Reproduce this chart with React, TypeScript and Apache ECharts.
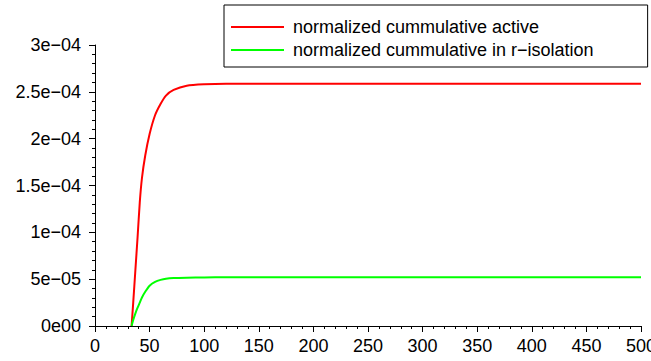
import React, { useEffect, useRef } from "react";
import * as echarts from "echarts";

const times = [33.5, 35, 37, 39, 41, 43, 46, 50, 55, 60, 65, 72, 84, 100, 120, 160, 250, 500];
const activeVals = [0, 0.25e-4, 0.6e-4, 0.95e-4, 1.32e-4, 1.58e-4, 1.82e-4, 2.05e-4, 2.25e-4, 2.37e-4, 2.46e-4, 2.52e-4, 2.565e-4, 2.58e-4, 2.585e-4, 2.585e-4, 2.585e-4, 2.585e-4];
const isolationVals = [0, 0.65e-5, 1.35e-5, 1.95e-5, 2.5e-5, 3.05e-5, 3.65e-5, 4.3e-5, 4.7e-5, 4.92e-5, 5.05e-5, 5.12e-5, 5.16e-5, 5.19e-5, 5.2e-5, 5.2e-5, 5.2e-5, 5.2e-5];
const yTickLabels = ["0e00", "5e\u221205", "1e\u221204", "1.5e\u221204", "2e\u221204", "2.5e\u221204", "3e\u221204"];
const seriesNames = ["normalized cummulative active", "normalized cummulative in r\u2212isolation"];

const FONT = "'Liberation Sans', Arial, Helvetica, sans-serif";

export default function App() {
  const ref = useRef<HTMLDivElement>(null);
  useEffect(() => {
    if (!ref.current) return;
    const chart = echarts.init(ref.current, undefined, { renderer: "svg" });
    const toPairs = (vals: number[]) => times.map((t, i) => [t, vals[i]]);
    chart.setOption({
      animation: false,
      backgroundColor: "#ffffff",
      textStyle: { fontFamily: FONT },
      grid: { left: 95, right: 10, top: 45, bottom: 35, outerBoundsMode: "none", containLabel: false },
      legend: {
        orient: "vertical",
        left: 224,
        top: 5,
        padding: [13, 54, 8, 7],
        borderColor: "#000",
        borderWidth: 1,
        itemWidth: 53,
        itemHeight: 2,
        itemGap: 5,
        icon: "rect",
        textStyle: { fontSize: 18, color: "#000", fontFamily: FONT, padding: [0, 0, 0, 4] },
        data: seriesNames,
      },
      xAxis: {
        type: "value",
        min: 0,
        max: 500,
        interval: 50,
        axisLine: { show: true, lineStyle: { color: "#000", width: 1 } },
        axisTick: { show: true, length: 6, inside: false, lineStyle: { color: "#000" } },
        minorTick: { show: true, splitNumber: 5, length: 3, lineStyle: { color: "#000" } },
        splitLine: { show: false },
        axisLabel: { fontSize: 18, color: "#000", margin: 11, fontFamily: FONT, showMaxLabel: true, hideOverlap: false },
      },
      yAxis: {
        type: "value",
        min: 0,
        max: 3e-4,
        interval: 5e-5,
        axisLine: { show: true, lineStyle: { color: "#000", width: 1 } },
        axisTick: { show: true, length: 6, lineStyle: { color: "#000" } },
        minorTick: { show: true, splitNumber: 5, length: 3, lineStyle: { color: "#000" } },
        splitLine: { show: false },
        axisLabel: {
          fontSize: 18,
          color: "#000",
          margin: 14,
          fontFamily: FONT,
          formatter: (v: number) => yTickLabels[Math.round(v / 5e-5)] ?? "",
        },
      },
      series: [
        {
          name: seriesNames[0],
          type: "line",
          data: toPairs(activeVals),
          smooth: 0.25,
          showSymbol: false,
          lineStyle: { color: "#ff0000", width: 2 },
          itemStyle: { color: "#ff0000" },
        },
        {
          name: seriesNames[1],
          type: "line",
          data: toPairs(isolationVals),
          smooth: 0.25,
          showSymbol: false,
          lineStyle: { color: "#00ff00", width: 2 },
          itemStyle: { color: "#00ff00" },
        },
      ],
    });
    return () => chart.dispose();
  }, []);
  return <div ref={ref} style={{ width: 651, height: 361, position: "absolute", left: 0, top: 0 }} />;
}
